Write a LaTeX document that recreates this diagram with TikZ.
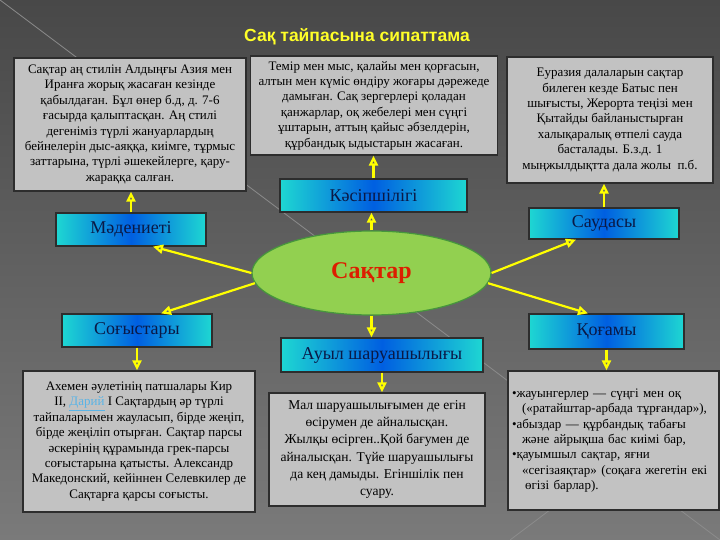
\documentclass[tikz,border=0pt]{standalone}
\usepackage{fontspec}
\setmainfont{Liberation Serif}
\newfontfamily\titlefont{Liberation Sans}
\usetikzlibrary{arrows.meta,shapes.geometric,calc}

\definecolor{bgtop}{RGB}{72,72,72}
\definecolor{bgbot}{RGB}{122,122,122}
\definecolor{diag}{RGB}{140,140,140}
\definecolor{boxgray}{RGB}{194,194,194}
\definecolor{boxedge}{RGB}{45,45,45}
\definecolor{cyanedge}{RGB}{30,215,210}
\definecolor{bluemid}{RGB}{0,95,225}
\definecolor{navy}{RGB}{10,25,70}
\definecolor{arrowyellow}{RGB}{255,255,0}
\definecolor{titleyellow}{RGB}{255,255,40}
\definecolor{ellfill}{RGB}{146,208,80}
\definecolor{elledge}{RGB}{70,150,60}
\definecolor{sakred}{RGB}{220,30,0}
\definecolor{linkblue}{RGB}{90,180,230}

\tikzset{
  graybox/.style={draw=boxedge, line width=1.2pt, fill=boxgray, inner sep=0pt,
    align=center, font=\fontsize{13}{15.4}\selectfont},
  bluebox/.style={draw=boxedge, line width=1.2pt, left color=cyanedge,
    right color=cyanedge, middle color=bluemid, text=navy, inner sep=0pt,
    font=\fontsize{18}{20}\selectfont},
  link/.style={draw=arrowyellow, line width=2.2pt,
    -{Triangle[open, length=10pt, width=9pt]}},
  bgline/.style={draw=diag, line width=0.8pt}
}

\begin{document}
\begin{tikzpicture}[x=1pt,y=-1pt]
\useasboundingbox (0,0) rectangle (720,540);
\shade[top color=bgtop, bottom color=bgbot] (0,0) rectangle (720,540);
\path[bgline] (0,0) -- (720,540);
\path[bgline] (720,382) -- (510,540);

\node[font=\titlefont\bfseries\fontsize{17.5}{20}\selectfont, text=titleyellow] (title) at (357,37) {Сақ тайпасына сипаттама};

% gray text boxes
\node[graybox, minimum width=232, minimum height=133] (b1) at (130,124.5) {Сақтар аң стилін Алдыңғы Азия мен\\
Иранға жорық жасаған кезінде\\
қабылдаған. Бұл өнер б.д, д. 7-6\\
ғасырда қалыптасқан. Аң стилі\\
дегеніміз түрлі жануарлардың\\
бейнелерін дыс-аяққа, киімге, тұрмыс\\
заттарына, түрлі әшекейлерге, қару-\\
жараққа салған.};

\node[graybox, minimum width=247, minimum height=99] (b2) at (374,105.5) {Темір мен мыс, қалайы мен қорғасын,\\
алтын мен күміс өндіру жоғары дәрежеде\\
дамыған. Сақ зергерлері қоладан\\
қанжарлар, оқ жебелері мен сүңгі\\
ұштарын, аттың қайыс әбзелдерін,\\
құрбандық ыдыстарын жасаған.};

\node[graybox, minimum width=206, minimum height=126] (b3) at (610,120) {Еуразия далаларын сақтар\\
билеген кезде Батыс пен\\
шығысты, Жерорта теңізі мен\\
Қытайды байланыстырған\\
халықаралық өтпелі сауда\\
басталады. Б.з.д. 1\\
мыңжылдықтта дала жолы\ \ п.б.};

\node[graybox, minimum width=232, minimum height=141] (b4) at (139,441.5) {Ахемен әулетінің патшалары Кир\\
ІІ, {\color{linkblue}\underline{Дарий}} І Сақтардың әр түрлі\\
тайпаларымен жауласып, бірде жеңіп,\\
бірде жеңіліп отырған. Сақтар парсы\\
әскерінің құрамында грек-парсы\\
соғыстарына қатысты. Александр\\
Македонский, кейіннен Селевкилер де\\
Сақтарға қарсы соғысты.};

\node[graybox, minimum width=216, minimum height=113, font=\fontsize{13.5}{17.2}\selectfont] (b5) at (377,449.5) {Мал шаруашылығымен де егін\\
өсірумен де айналысқан.\\
Жылқы өсірген..Қой бағумен де\\
айналысқан. Түйе шаруашылығы\\
да кең дамыды. Егіншілік пен\\
суару.};

\node[graybox, align=left, text width=203, inner xsep=4pt, minimum height=139] (b6) at (613.5,440.5) {•жауынгерлер — сүңгі мен оқ\\
\hspace*{10pt}(«ратайштар-арбада тұрғандар»),\\
•абыздар — құрбандық табағы\\
\hspace*{10pt}және айрықша бас киімі бар,\\
•қауымшыл сақтар, яғни\\
\hspace*{10pt}«сегізаяқтар» (соқаға жегетін екі\\
\hspace*{13pt}өгізі барлар).};

% blue category boxes
\node[bluebox, minimum width=187, minimum height=33] (kas) at (373.5,195.5) {Кәсіпшілігі};
\node[bluebox, minimum width=150, minimum height=33] (mad) at (131,229.5) {Мәдениеті};
\node[bluebox, minimum width=150, minimum height=31] (sau) at (604,223.5) {Саудасы};
\node[bluebox, minimum width=150, minimum height=33] (sog) at (137,330.5) {Соғыстары};
\node[bluebox, minimum width=155, minimum height=35] (qog) at (606.5,331.5) {Қоғамы};
\node[bluebox, minimum width=202, minimum height=34] (aul) at (382,355) {Ауыл шаруашылығы};

% centre ellipse
\node[ellipse, draw=elledge, line width=1.2pt, fill=ellfill, minimum width=239, minimum height=84,
  text=sakred, font=\bfseries\fontsize{24}{28}\selectfont] (ell) at (371.5,273) {Сақтар};

% connectors
\draw[link] (ell.north) -- (ell.north |- kas.south);
\draw[link] (kas.north) -- (kas.north |- b2.south);
\draw[link] (ell.180) -- ($(mad.south)+(22,0)$);
\draw[link] (ell.185) -- ($(sog.north)+(24,0)$);
\draw[link] (ell.0) -- ($(sau.south)+(-28,0)$);
\draw[link] (ell.355) -- ($(qog.north)+(-18.5,0)$);
\draw[link] (ell.south) -- (ell.south |- aul.north);
\draw[link] (mad.north) -- (mad.north |- b1.south);
\draw[link] (sau.north) -- (sau.north |- b3.south);
\draw[link] (sog.south) -- (sog.south |- b4.north);
\draw[link] (qog.south) -- (qog.south |- b6.north);
\draw[link] (aul.south) -- (aul.south |- b5.north);
\end{tikzpicture}
\end{document}
